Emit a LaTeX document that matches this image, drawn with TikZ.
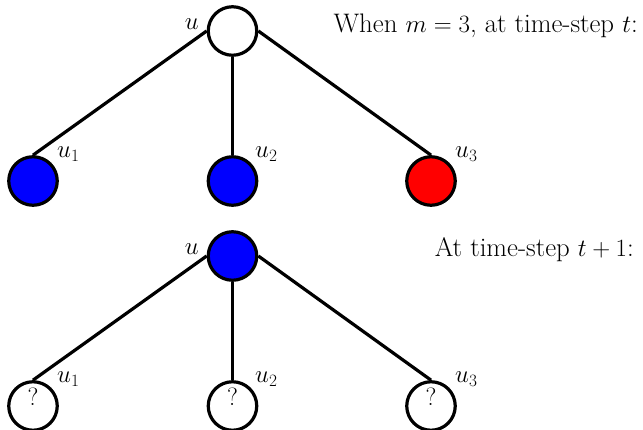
\documentclass[tikz,border=0pt]{standalone}
\begin{document}
\begin{tikzpicture}[x=1pt,y=-1pt,
  vert/.style={circle,draw=black,line width=3.2pt,minimum size=48.5pt,inner sep=0pt},
  edge/.style={line width=3.2pt},
  lab/.style={font=\fontsize{26.8}{30}\selectfont,inner sep=0pt},
  qm/.style={font=\fontsize{25}{28}\selectfont,inner sep=0pt}]
\useasboundingbox (0,0) rectangle (643,430);
% top tree
\node[vert,fill=white] (r1) at (232.5,31) {};
\node[vert,fill=blue] (a1) at (33,181) {};
\node[vert,fill=blue] (b1) at (232.5,181) {};
\node[vert,fill=red] (c1) at (431,181) {};
\draw[edge] (r1.west) -- (a1.north);
\draw[edge] (r1.south) -- (b1.north);
\draw[edge] (r1.east) -- (c1.north);
\node[lab,anchor=base east] (lu1) at (199,30) {$u$};
\node[lab,anchor=base west] (la1) at (57,158) {$u_1$};
\node[lab,anchor=base west] (lb1) at (255,158) {$u_2$};
\node[lab,anchor=base west] (lc1) at (455,158) {$u_3$};
\node[lab,anchor=base east] (t1) at (638,33) {When $m=3$, at time-step $t$:};
% bottom tree
\node[vert,fill=blue] (r2) at (232.5,256) {};
\node[vert,fill=white] (a2) at (33,406) {};
\node[vert,fill=white] (b2) at (232.5,406) {};
\node[vert,fill=white] (c2) at (431,406) {};
\node[qm] (qa) at ([yshift=9pt]a2.center) {?};
\node[qm] (qb) at ([yshift=9pt]b2.center) {?};
\node[qm] (qc) at ([yshift=9pt]c2.center) {?};
\draw[edge] (r2.west) -- (a2.north);
\draw[edge] (r2.south) -- (b2.north);
\draw[edge] (r2.east) -- (c2.north);
\node[lab,anchor=base east] (lu2) at (199,255) {$u$};
\node[lab,anchor=base west] (la2) at (57,383) {$u_1$};
\node[lab,anchor=base west] (lb2) at (255,383) {$u_2$};
\node[lab,anchor=base west] (lc2) at (455,383) {$u_3$};
\node[lab,anchor=base east] (t2) at (634,257) {At time-step $t+1$:};
\end{tikzpicture}
\end{document}
